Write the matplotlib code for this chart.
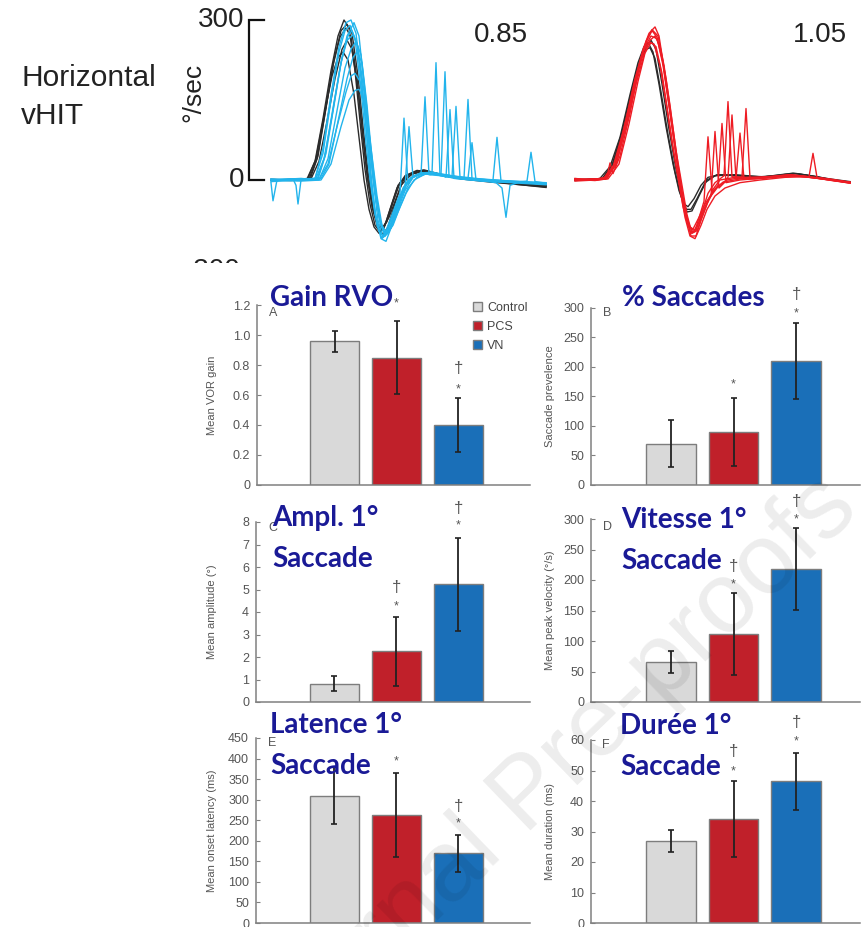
import matplotlib
matplotlib.use("Agg")
import matplotlib.pyplot as plt
from matplotlib import font_manager
from matplotlib.font_manager import FontProperties

W, H = 863, 927


def have(name):
    try:
        font_manager.findfont(FontProperties(family=name), fallback_to_default=False)
        return True
    except ValueError:
        return False


NARROW = "Liberation Sans Narrow" if have("Liberation Sans Narrow") else "Liberation Sans"
SANS = "Liberation Sans"
TITLE_FONT = "Lato" if have("Lato") else "DejaVu Sans"

# ---------------------------------------------------------------- vHIT traces
# each trace: (time in ms, velocity in deg/s) sample pairs
head_left = [
    [(0, 1), (20, 0), (36, 2), (44, 35), (52, 115), (60, 205), (67, 270), (73, 300), (78, 285), (84, 205), (89, 110),
     (94, 20), (99, -45), (104, -85), (109, -97), (114, -85), (120, -50), (127, -10), (135, 8), (145, 16), (153, 19),
     (165, 13), (180, 6), (200, 1), (225, -3), (250, -7), (275, -11)],
    [(0, -1), (20, 1), (38, 2), (46, 40), (54, 125), (62, 215), (69, 268), (75, 285), (80, 268), (86, 190), (91, 95),
     (96, 10), (101, -50), (106, -85), (111, -92), (116, -78), (122, -42), (129, -5), (138, 10), (150, 16), (165, 12),
     (185, 4), (210, -1), (240, -6), (275, -12)],
    [(0, 0), (20, -1), (40, 2), (48, 35), (56, 110), (64, 190), (71, 245), (76, 262), (81, 245), (87, 170), (92, 80),
     (97, 0), (102, -55), (107, -85), (112, -88), (118, -70), (125, -35), (132, -2), (142, 12), (155, 17), (170, 10),
     (190, 3), (215, -2), (245, -8), (275, -14)],
    [(0, 1), (22, 0), (37, 3), (45, 40), (53, 120), (61, 195), (67, 230), (72, 240), (77, 225), (83, 160), (88, 80),
     (93, 0), (98, -55), (103, -88), (108, -100), (113, -90), (119, -55), (126, -15), (134, 8), (146, 18), (160, 14),
     (180, 5), (205, 0), (235, -5), (275, -10)],
    [(0, 0), (21, 1), (39, 1), (47, 45), (55, 135), (63, 225), (70, 280), (76, 292), (81, 275), (87, 195), (92, 100),
     (97, 15), (102, -50), (107, -90), (112, -102), (117, -88), (123, -50), (130, -10), (140, 10), (152, 18),
     (168, 11), (190, 2), (220, -4), (250, -9), (275, -13)],
]

eye_vn = [
    [(0, 0), (25, 2), (45, 3), (53, 40), (61, 120), (69, 210), (76, 270), (83, 295), (88, 270), (93, 180), (97, 90),
     (100, 10), (104, -60), (109, -100), (113, -105), (118, -80), (124, -50), (129, -25), (133, 116), (137, -8),
     (142, 5), (150, 14), (165, 10), (185, 4), (210, 0), (240, -3), (275, -8)],
    [(0, -3), (30, 0), (47, 2), (55, 50), (63, 140), (71, 230), (77, 270), (81, 280), (86, 255), (92, 160), (97, 60),
     (101, -20), (106, -85), (111, -110), (116, -95), (122, -65), (128, -35), (134, -15), (138, 100), (142, 5),
     (150, 12), (160, 15), (172, 8), (175, 5), (179, 132), (183, 3), (200, 0), (230, -4), (275, -6)],
    [(0, 0), (30, 3), (48, 0), (57, 40), (66, 130), (74, 210), (80, 245), (85, 260), (90, 235), (95, 150), (99, 70),
     (103, 0), (108, -70), (113, -100), (119, -90), (125, -55), (132, -15), (140, 5), (150, 12), (160, 10),
     (161, 12), (165, 220), (169, 8), (185, 3), (210, -2), (240, -5), (275, -9)],
    [(0, 2), (28, 0), (44, 2), (52, 60), (60, 160), (68, 250), (75, 295), (80, 300), (85, 275), (91, 180), (96, 80),
     (100, 0), (105, -70), (110, -110), (115, -115), (121, -85), (128, -45), (135, -10), (142, 8), (150, 10),
     (154, 156), (158, 10), (170, 8), (185, 5), (193, 3), (197, 151), (201, 2), (220, 0), (250, -4), (275, -7)],
    [(0, -5), (2, -39), (6, 0), (30, 2), (50, 3), (58, 30), (67, 110), (76, 190), (82, 230), (86, 240), (91, 220),
     (96, 140), (100, 60), (104, -10), (109, -80), (114, -105), (120, -90), (127, -55), (134, -20), (142, 5),
     (155, 14), (170, 10), (174, 203), (178, 8), (195, 3), (220, 0), (250, -3), (275, -6)],
    [(0, 0), (22, 2), (25, -10), (27, -45), (30, 0), (44, 3), (52, 50), (60, 150), (68, 240), (74, 280), (79, 290),
     (84, 265), (90, 170), (95, 70), (99, 0), (104, -65), (109, -100), (114, -105), (120, -80), (127, -40),
     (135, -5), (145, 10), (160, 12), (175, 8), (181, 6), (185, 138), (189, 5), (205, 2), (222, 0), (226, 80),
     (230, -2), (250, -4), (275, -8)],
    [(0, 1), (30, 0), (48, 2), (57, 30), (66, 100), (75, 165), (80, 195), (84, 200), (89, 185), (95, 120), (100, 40),
     (104, -20), (109, -75), (114, -100), (120, -90), (127, -60), (135, -25), (143, 0), (155, 12), (175, 10),
     (190, 5), (197, 3), (201, 70), (205, 0), (225, -5), (231, -15), (235, -70), (239, -10), (250, -3), (256, -2),
     (260, 52), (264, -3), (275, -6)],
    [(0, 0), (30, -2), (50, 0), (60, 30), (70, 100), (78, 150), (84, 168), (88, 170), (93, 150), (98, 90), (102, 30),
     (106, -30), (111, -85), (116, -100), (122, -85), (129, -50), (137, -15), (146, 5), (160, 15), (180, 8),
     (210, 2), (240, -2), (275, -5)],
    [(0, 1), (26, -1), (46, 1), (54, 45), (62, 135), (70, 220), (76, 262), (82, 272), (87, 250), (93, 165), (98, 75),
     (102, 0), (107, -75), (112, -108), (117, -100), (123, -70), (130, -30), (138, 0), (148, 12), (162, 14),
     (180, 6), (205, 1), (235, -3), (275, -7)],
]

head_right = [
    [(0, 2), (15, 0), (25, 3), (35, 25), (45, 80), (55, 160), (63, 220), (69, 250), (73, 258), (78, 240), (84, 180),
     (91, 100), (98, 30), (104, -20), (109, -45), (113, -50), (119, -35), (126, -10), (133, 5), (145, 10), (165, 8),
     (190, 6), (210, 10), (220, 12), (235, 8), (255, 2), (275, -3)],
    [(0, 0), (15, 2), (27, 2), (37, 28), (47, 90), (57, 170), (65, 225), (71, 245), (75, 248), (80, 228), (86, 165),
     (93, 85), (100, 15), (106, -30), (111, -55), (116, -55), (122, -35), (130, -5), (140, 8), (160, 10), (185, 6),
     (205, 9), (218, 13), (232, 9), (252, 2), (275, -5)],
    [(0, -1), (15, 1), (28, 3), (38, 30), (48, 95), (58, 175), (66, 228), (72, 252), (76, 262), (81, 245), (87, 180),
     (94, 95), (101, 20), (107, -30), (112, -60), (117, -58), (124, -30), (132, 0), (142, 10), (160, 8), (185, 5),
     (210, 11), (222, 12), (240, 7), (258, 0), (275, -4)],
]

eye_pcs = [
    [(0, 3), (15, 0), (30, 2), (40, 30), (50, 100), (60, 185), (68, 245), (74, 275), (80, 287), (84, 270), (89, 210),
     (95, 130), (101, 50), (106, -20), (111, -70), (116, -100), (121, -95), (127, -60), (133, -25), (140, -5),
     (147, 5), (149, 8), (153, 147), (157, 6), (170, 5), (190, 6), (215, 10), (235, 6), (255, 2), (275, -4)],
    [(0, 0), (20, 2), (32, 3), (42, 35), (52, 110), (62, 195), (70, 250), (76, 270), (82, 265), (88, 220), (94, 140),
     (100, 60), (105, 0), (110, -55), (115, -90), (120, -95), (125, -65), (129, -40), (133, 81), (137, -20),
     (145, 0), (160, 5), (167, 5), (171, 134), (175, 4), (195, 5), (215, 9), (235, 5), (255, 0), (275, -5)],
    [(0, -2), (20, 0), (28, 2), (38, 25), (48, 90), (58, 170), (66, 230), (72, 262), (77, 280), (82, 268), (88, 215),
     (94, 140), (100, 60), (105, -5), (110, -60), (116, -105), (121, -105), (126, -75), (132, -45), (136, -30),
     (140, 91), (144, -15), (152, 0), (161, 3), (165, 88), (169, 2), (190, 4), (215, 8), (240, 4), (260, -1),
     (275, -6)],
    [(0, 1), (18, 2), (30, 3), (40, 30), (50, 105), (60, 190), (68, 240), (74, 258), (79, 255), (85, 215), (91, 145),
     (97, 70), (103, 5), (108, -50), (113, -85), (118, -92), (124, -70), (130, -45), (137, -25), (143, -10),
     (147, 106), (151, -5), (165, 0), (190, 4), (215, 10), (234, 6), (238, 50), (242, 5), (258, 0), (275, -4)],
    [(0, 0), (22, 2), (30, 5), (33, 15), (35, 32), (38, 12), (45, 45), (55, 125), (64, 210), (71, 260), (77, 282),
     (83, 270), (89, 215), (95, 140), (101, 55), (107, -10), (112, -65), (117, -100), (122, -95), (128, -65),
     (134, -35), (142, -15), (150, -2), (153, 5), (157, 122), (161, 3), (180, 2), (205, 6), (225, 8), (250, 2),
     (275, -5)],
    [(0, 2), (20, 0), (33, 2), (44, 30), (54, 105), (63, 185), (70, 238), (76, 258), (81, 250), (87, 200), (93, 125),
     (99, 50), (105, -15), (110, -70), (115, -105), (120, -110), (126, -85), (132, -55), (140, -30), (150, -15),
     (165, -5), (185, 0), (210, 5), (230, 6), (255, 0), (275, -6)],
    [(0, 1), (20, -1), (31, 2), (41, 28), (51, 100), (61, 180), (69, 235), (75, 262), (80, 270), (85, 250),
     (91, 190), (97, 110), (103, 30), (108, -35), (113, -80), (118, -98), (124, -80), (130, -50), (138, -20),
     (148, -4), (165, 2), (190, 5), (215, 9), (240, 4), (260, -2), (275, -5)],
]

vn_gain_text = "0.85"
pcs_gain_text = "1.05"
scale_values = [0, 300]

# ---------------------------------------------------------------- bar data
groups = ["Control", "PCS", "VN"]
bar_colors = ["#d9d9d9", "#c0202a", "#1a6fb8"]

gain_mean = [0.96, 0.85, 0.40]
gain_sd = [0.07, 0.245, 0.18]
prev_mean = [70, 90, 210]
prev_sd = [40, 58, 64]
ampl_mean = [0.81, 2.25, 5.23]
ampl_sd = [0.33, 1.54, 2.07]
vel_mean = [65.5, 111, 217.6]
vel_sd = [18.5, 67, 67]
lat_mean = [310, 263.5, 170]
lat_sd = [70, 102, 45]
dur_mean = [26.9, 34.0, 46.4]
dur_sd = [3.7, 12.4, 9.2]

# significance marks: (group index, symbol, height)
gain_marks = [(1, "*", 1.21), (2, "\u2020", 0.78), (2, "*", 0.64)]
prev_marks = [(1, "*", 170), (2, "*", 291), (2, "\u2020", 323)]
ampl_marks = [(1, "\u2020", 5.07), (1, "*", 4.25), (2, "\u2020", 8.6), (2, "*", 7.85)]
vel_marks = [(1, "\u2020", 222), (1, "*", 193), (2, "\u2020", 329), (2, "*", 300)]
lat_marks = [(1, "*", 393), (2, "\u2020", 284), (2, "*", 243)]
dur_marks = [(1, "\u2020", 56.2), (1, "*", 49.6), (2, "\u2020", 65.8), (2, "*", 59.5)]

gain_ticks = [0, 0.2, 0.4, 0.6, 0.8, 1.0, 1.2]
gain_ticklabels = ["0", "0.2", "0.4", "0.6", "0.8", "1.0", "1.2"]
prev_ticks = [0, 50, 100, 150, 200, 250, 300]
ampl_ticks = [0, 1, 2, 3, 4, 5, 6, 7, 8]
vel_ticks = [0, 50, 100, 150, 200, 250, 300]
lat_ticks = [0, 50, 100, 150, 200, 250, 300, 350, 400, 450]
dur_ticks = [0, 10, 20, 30, 40, 50, 60]

fig = plt.figure(figsize=(W / 100, H / 100), dpi=100)
fig.patch.set_facecolor("white")


def px_axes(left, top, right, bottom):
    return fig.add_axes([left / W, 1 - bottom / H, (right - left) / W, (bottom - top) / H])


def fx(x):
    return x / W


def fy(y):
    return 1 - y / H


TRACE_BLACK = "#2b2b2b"
TRACE_CYAN = "#22b4ec"
TRACE_RED = "#ee1c24"
PX_PER_DPS = 160 / 300.0


def trace_axes(left, right, t0_px):
    ax = px_axes(left, 0, right, 263)
    ax.set_xlim(left - t0_px, right - t0_px)
    ax.set_ylim(-(263 - 180) / PX_PER_DPS, 180 / PX_PER_DPS)
    ax.axis("off")
    return ax


axL = trace_axes(185, 550, 271)
for tr in head_left:
    t, v = zip(*tr)
    axL.plot(t, v, color=TRACE_BLACK, lw=1.0, solid_joinstyle="round")
for tr in eye_vn:
    t, v = zip(*tr)
    axL.plot(t, v, color=TRACE_CYAN, lw=1.0, solid_joinstyle="round")

# scale bar
axL.plot([-7, -22, -22, -7], [scale_values[1], scale_values[1], scale_values[0], scale_values[0]],
         color="#111111", lw=1.6, solid_joinstyle="miter")
axL.text(-27, scale_values[1], "300", ha="right", va="center", fontsize=20, family=NARROW, color="#222222")
axL.text(-27, scale_values[0], "0", ha="right", va="center", fontsize=20, family=NARROW, color="#222222")
axL.text(-31, -146, "-300", ha="right", va="top", fontsize=20, family=NARROW, color="#222222", clip_on=True)
axL.text(-78, 165, "\u00b0/sec", ha="center", va="center", rotation=90, fontsize=19, family=NARROW,
         color="#222222")

axR = trace_axes(560, 860, 575)
for tr in head_right:
    t, v = zip(*tr)
    axR.plot(t, v, color=TRACE_BLACK, lw=1.0, solid_joinstyle="round")
for tr in eye_pcs:
    t, v = zip(*tr)
    axR.plot(t, v, color=TRACE_RED, lw=1.0, solid_joinstyle="round")

fig.text(fx(528), fy(42), vn_gain_text, ha="right", va="baseline", fontsize=20, family=NARROW, color="#222222")
fig.text(fx(847), fy(42), pcs_gain_text, ha="right", va="baseline", fontsize=20, family=NARROW, color="#222222")
fig.text(fx(21), fy(64), "Horizontal\nvHIT", ha="left", va="top", fontsize=21.5, family=NARROW,
         color="#222222", linespacing=1.45)

# ---------------------------------------------------------------- bar panels
TITLE_COLOR = "#1a1a96"
GRAY_TXT = "#555555"
SPINE = "#808080"

panels = [
    dict(box=(257, 305, 530, 485), ymax=1.2, mean=gain_mean, sd=gain_sd, marks=gain_marks, ticks=gain_ticks,
         ticklabels=gain_ticklabels, ylabel="Mean VOR gain", ylab_x=212, letter="A", letter_xy=(273, 313),
         title="Gain RVO", title_xy=(270, 285), xlim=(-1.26, 3.16)),
    dict(box=(591, 308, 860, 485), ymax=300, mean=prev_mean, sd=prev_sd, marks=prev_marks, ticks=prev_ticks,
         ticklabels=None, ylabel="Saccade prevelence", ylab_x=550, letter="B", letter_xy=(607, 313),
         title="% Saccades", title_xy=(622, 285), xlim=(-1.28, 3.02)),
    dict(box=(256, 522, 530, 702), ymax=8, mean=ampl_mean, sd=ampl_sd, marks=ampl_marks, ticks=ampl_ticks,
         ticklabels=None, ylabel="Mean amplitude (\u00b0)", ylab_x=212, letter="C", letter_xy=(273, 528),
         title="Ampl. 1\u00b0\nSaccade", title_xy=(272, 505), xlim=(-1.26, 3.16)),
    dict(box=(591, 519, 860, 702), ymax=300, mean=vel_mean, sd=vel_sd, marks=vel_marks, ticks=vel_ticks,
         ticklabels=None, ylabel="Mean peak velocity (\u00b0/s)", ylab_x=550, letter="D", letter_xy=(607, 527),
         title="Vitesse 1\u00b0\nSaccade", title_xy=(621, 507), xlim=(-1.28, 3.02)),
    dict(box=(256, 738, 530, 923), ymax=450, mean=lat_mean, sd=lat_sd, marks=lat_marks, ticks=lat_ticks,
         ticklabels=None, ylabel="Mean onset latency (ms)", ylab_x=212, letter="E", letter_xy=(272, 743),
         title="Latence 1\u00b0\nSaccade", title_xy=(270, 712), xlim=(-1.26, 3.16)),
    dict(box=(591, 740, 860, 923), ymax=60, mean=dur_mean, sd=dur_sd, marks=dur_marks, ticks=dur_ticks,
         ticklabels=None, ylabel="Mean duration (ms)", ylab_x=550, letter="F", letter_xy=(606, 745),
         title="Dur\u00e9e 1\u00b0\nSaccade", title_xy=(620, 713), xlim=(-1.28, 3.02)),
]

for i, p in enumerate(panels):
    l, t, r, b = p["box"]
    ax = px_axes(l, t, r, b)
    ax.set_facecolor("none")
    ax.set_xlim(*p["xlim"])
    ax.set_ylim(0, p["ymax"])
    for k in range(3):
        ax.bar(k, p["mean"][k], width=0.79, color=bar_colors[k], edgecolor="#7d7d7d", linewidth=1.0,
               label=groups[k], zorder=2)
        ax.errorbar(k, p["mean"][k], yerr=p["sd"][k], fmt="none", ecolor="#222222", elinewidth=1.3,
                    capsize=2, capthick=1.2, zorder=3)
    for k, sym, yv in p["marks"]:
        if sym == "*":
            ax.text(k, yv, sym, ha="center", va="center", fontsize=9, family=SANS, color=GRAY_TXT,
                    clip_on=False, zorder=4)
        else:
            ax.text(k, yv, sym, ha="center", va="center", fontsize=12, family=SANS, color=GRAY_TXT,
                    clip_on=False, zorder=4)
    for s in ("top", "right"):
        ax.spines[s].set_visible(False)
    for s in ("left", "bottom"):
        ax.spines[s].set_color(SPINE)
        ax.spines[s].set_linewidth(1.1)
    ax.set_xticks([])
    ax.set_yticks(p["ticks"])
    if p["ticklabels"] is not None:
        ax.set_yticklabels(p["ticklabels"])
    ax.tick_params(axis="y", direction="in", length=3, width=0.8, color=SPINE, pad=5, labelsize=9,
                   labelcolor=GRAY_TXT)
    for lab in ax.get_yticklabels():
        lab.set_family(NARROW)
    fig.text(fx(p["ylab_x"]), fy((t + b) / 2), p["ylabel"], rotation=90, ha="center", va="center",
             fontsize=8, family=NARROW, color=GRAY_TXT)
    fig.text(fx(p["letter_xy"][0]), fy(p["letter_xy"][1]), p["letter"], ha="center", va="center",
             fontsize=9, family=SANS, color=GRAY_TXT)
    fig.text(fx(p["title_xy"][0]), fy(p["title_xy"][1]), p["title"], ha="left", va="top", fontsize=20,
             family=TITLE_FONT, fontweight="bold", color=TITLE_COLOR, linespacing=1.7, zorder=20)
    if i == 0:
        leg = ax.legend(loc="upper left", bbox_to_anchor=(fx(473), fy(302)), bbox_transform=fig.transFigure,
                        frameon=False, handlelength=0.75, handleheight=0.75, handletextpad=0.4,
                        labelspacing=0.55, borderaxespad=0, borderpad=0, prop={"family": NARROW, "size": 9})
        for txt in leg.get_texts():
            txt.set_color("#444444")

fig.text(fx(565), fy(797), "Journal Pre-proofs", rotation=44, rotation_mode="anchor", ha="center",
         va="baseline", fontsize=72, family=SANS, color="black", alpha=0.075, zorder=50)

fig.savefig("out.png", dpi=100, facecolor="white")
